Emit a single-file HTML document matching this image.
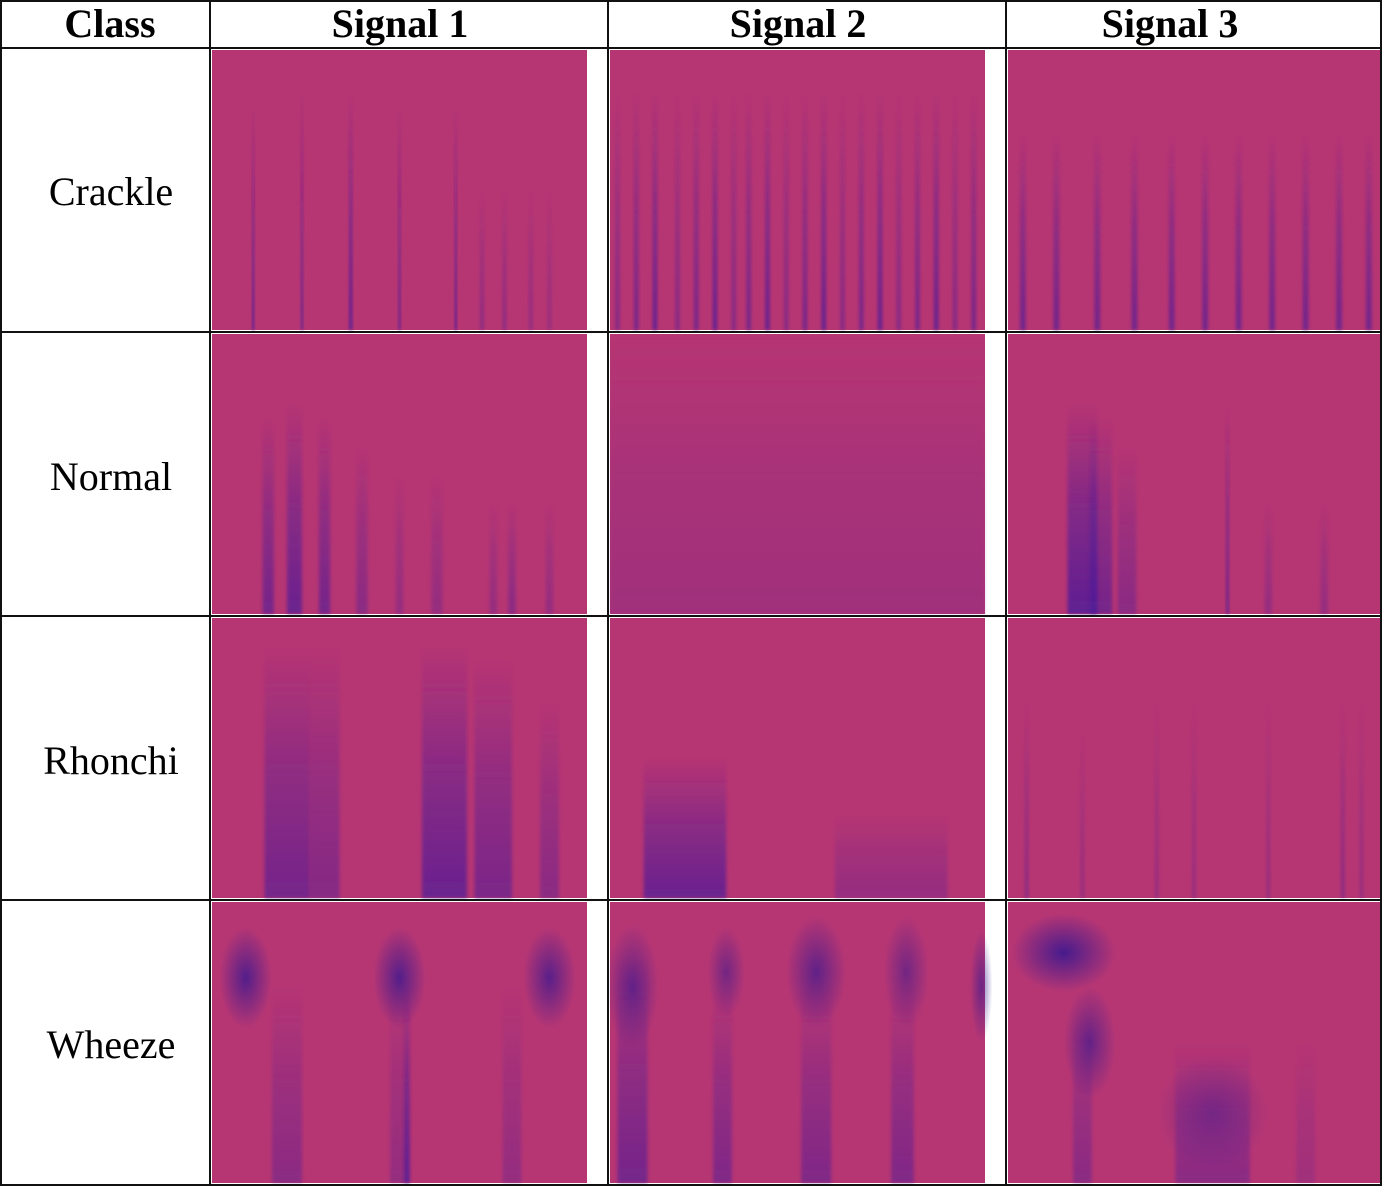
<!DOCTYPE html>
<html><head><meta charset="utf-8"><style>
body{margin:0;background:#fff;width:1382px;height:1186px;overflow:hidden;font-family:"Liberation Serif",serif}
svg{display:block}
</style></head><body>
<svg id="s" width="1382" height="1186">
<defs>
<linearGradient id="streak" x1="0" y1="0" x2="0" y2="1">
<stop offset="0" stop-color="#4a1a9a" stop-opacity="0"/>
<stop offset="0.5" stop-color="#4a1a9a" stop-opacity="0.6"/>
<stop offset="1" stop-color="#4a1a9a" stop-opacity="1"/>
</linearGradient>
<radialGradient id="blob"><stop offset="0" stop-color="#3a1890" stop-opacity="1"/><stop offset="1" stop-color="#3a1890" stop-opacity="0"/></radialGradient>
<filter id="bl" x="-50%" y="-50%" width="200%" height="200%"><feGaussianBlur stdDeviation="1.5"/></filter>
</defs>
<g id="cells"></g>
<g id="grid" stroke="#111" stroke-width="2" fill="none"></g>
<g font-family="Liberation Serif, serif" text-anchor="middle">
<text x="110" y="37" font-size="40" font-weight="bold">Class</text>
<text x="400" y="37" font-size="40" font-weight="bold">Signal 1</text>
<text x="798" y="37" font-size="40" font-weight="bold">Signal 2</text>
<text x="1170" y="37" font-size="40" font-weight="bold">Signal 3</text>
<text x="111" y="205" font-size="40">Crackle</text>
<text x="111" y="490" font-size="40">Normal</text>
<text x="111" y="774" font-size="40">Rhonchi</text>
<text x="111" y="1058" font-size="40">Wheeze</text>
</g>
</svg>
<script>
// streaks: [xFrac, widthFrac, startYFrac, intensity]
const crackle1=[[0.11,0.006,0.2,0.9],[0.24,0.006,0.15,0.8],[0.37,0.008,0.15,0.9],[0.50,0.006,0.2,0.8],[0.65,0.006,0.2,0.9],[0.72,0.01,0.5,0.4],[0.78,0.01,0.5,0.4],[0.85,0.01,0.5,0.35],[0.9,0.01,0.5,0.3]];
const crackle2=[0.02,0.07,0.12,0.18,0.23,0.28,0.33,0.37,0.42,0.47,0.52,0.57,0.62,0.67,0.72,0.77,0.82,0.87,0.92,0.97].map((x,i)=>[x,0.012,0.15,0.45+0.3*((i*7)%3)/2]);
const crackle3=[0.04,0.13,0.24,0.34,0.44,0.53,0.62,0.71,0.80,0.89,0.97].map(x=>[x,0.015,0.3,0.65]);
const normal1=[[0.15,0.03,0.3,0.6],[0.22,0.04,0.25,0.7],[0.3,0.03,0.3,0.6],[0.4,0.03,0.4,0.4],[0.5,0.02,0.5,0.3],[0.6,0.03,0.5,0.3],[0.75,0.02,0.6,0.3],[0.8,0.02,0.6,0.4],[0.9,0.02,0.6,0.3]];
const normal2=[[0.5,1.0,0.0,0.2]];
const normal3=[[0.2,0.08,0.25,0.8],[0.25,0.06,0.3,0.6],[0.32,0.05,0.4,0.4],[0.59,0.008,0.25,0.7],[0.7,0.02,0.6,0.3],[0.85,0.02,0.6,0.3]];
const rhonchi1=[[0.2,0.12,0.1,0.6],[0.3,0.08,0.1,0.45],[0.62,0.12,0.1,0.7],[0.75,0.1,0.15,0.55],[0.9,0.05,0.3,0.4]];
const rhonchi2=[[0.2,0.22,0.5,0.7],[0.75,0.3,0.7,0.3]];
const rhonchi3=[[0.05,0.01,0.3,0.4],[0.2,0.01,0.4,0.3],[0.4,0.01,0.3,0.3],[0.5,0.01,0.3,0.3],[0.7,0.01,0.3,0.3],[0.9,0.01,0.3,0.4],[0.95,0.01,0.3,0.3]];
const wheeze1=[[0.2,0.08,0.3,0.4],[0.5,0.05,0.3,0.3],[0.52,0.015,0.3,0.7],[0.8,0.05,0.3,0.3]];
const wheeze2=[[0.06,0.08,0.2,0.6],[0.3,0.05,0.3,0.5],[0.55,0.08,0.3,0.5],[0.78,0.06,0.3,0.5]];
const wheeze3=[[0.2,0.05,0.4,0.4],[0.55,0.2,0.5,0.4],[0.8,0.05,0.5,0.2]];
// blobs: [cxFrac, cyFrac, rxFrac, ryFrac, intensity]
const blobs=[[],[],[],[],[],[],[],[],[],
 [[0.09,0.27,0.07,0.18,0.8],[0.5,0.27,0.07,0.18,0.8],[0.9,0.27,0.07,0.18,0.75]],
 [[0.06,0.3,0.07,0.22,0.65],[0.31,0.25,0.05,0.16,0.55],[0.55,0.25,0.08,0.2,0.7],[0.79,0.25,0.06,0.2,0.55],[0.99,0.3,0.03,0.2,0.6]],
 [[0.15,0.18,0.14,0.14,0.9],[0.22,0.5,0.07,0.2,0.65],[0.55,0.75,0.15,0.2,0.4]]];
const streaks=[crackle1,crackle2,crackle3,normal1,normal2,normal3,rhonchi1,rhonchi2,rhonchi3,wheeze1,wheeze2,wheeze3];
const rowNames=['crackle','normal','rhonchi','wheeze'];
const colX=[[212,587],[610,985],[1008,1380]];
const rowY=[[50,330],[334,614],[618,898],[902,1183]];
const NS='http://www.w3.org/2000/svg';
const g=document.getElementById('cells');
function mk(t,a){const e=document.createElementNS(NS,t);for(const k in a)e.setAttribute(k,a[k]);return e;}
for(let r=0;r<4;r++)for(let c=0;c<3;c++){
 const [x0,x1]=colX[c],[y0,y1]=rowY[r],w=x1-x0,h=y1-y0;
 const cg=mk('g',{});
 
 
 cg.appendChild(mk('rect',{x:x0,y:y0,width:w,height:h,fill:'#b63674'}));
 const idx=r*3+c;
 streaks[idx].forEach(s=>{
  const sw=Math.max(2,s[1]*w);
  const e=mk('rect',{x:x0+s[0]*w-sw/2,y:y0+s[2]*h,width:sw,height:h*(1-s[2]),fill:'url(#streak)',opacity:s[3],filter:'url(#bl)'});
  
  
  cg.appendChild(e);
 });
 blobs[idx].forEach(b=>{
  const e=mk('ellipse',{cx:x0+b[0]*w,cy:y0+b[1]*h,rx:b[2]*w,ry:b[3]*h,fill:'url(#blob)',opacity:b[4]});
  
  
  cg.appendChild(e);
 });
 g.appendChild(cg);
}
const gr=document.getElementById('grid');
gr.appendChild(mk('rect',{x:1,y:1,width:1380,height:1184}));
[210,608,1006].forEach(x=>gr.appendChild(mk('line',{x1:x,y1:0,x2:x,y2:1186})));
[48,332,616,900].forEach(y=>gr.appendChild(mk('line',{x1:0,y1:y,x2:1382,y2:y})));
</script>
</body></html>
